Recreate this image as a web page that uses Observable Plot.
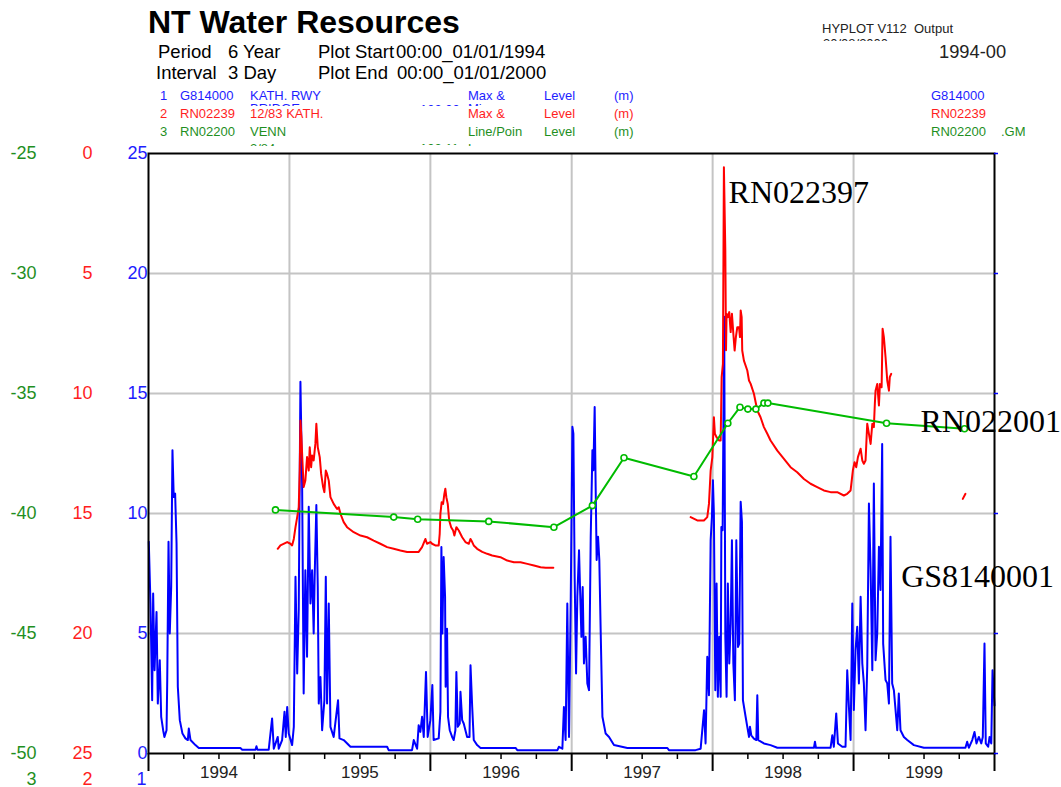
<!DOCTYPE html>
<html>
<head>
<meta charset="utf-8">
<script src="https://cdn.jsdelivr.net/npm/d3@7"></script>
<script src="https://cdn.jsdelivr.net/npm/@observablehq/plot@0.6"></script>
<style>
  html, body { margin: 0; padding: 0; background: #fff; }
  body { width: 1061px; height: 787px; position: relative; overflow: hidden; font-family: "Liberation Sans", Arial, sans-serif; }
  #header { position: relative; width: 1061px; height: 140px; }
  .t { position: absolute; white-space: pre; line-height: 1; z-index: 2; }
  .clip { position: absolute; overflow: hidden; z-index: 2; }
  .clip span { position: absolute; left: 0; white-space: pre; line-height: 1; }
  #chart svg { display: block; overflow: visible; }
</style>
</head>
<body>
<div id="header"></div>
<div id="chart"></div>
<script>
// ---------------- DATA ----------------
// Series 1: G814000 KATH. RWY BRIDGE — level (m), [decimal year, level]
const blueSeries = [
  [1994.002,8.82],[1994.014,6.25],[1994.026,2.22],[1994.033,6.67],[1994.043,3.47],[1994.057,5.9],
  [1994.066,2.08],[1994.080,3.89],[1994.090,1.53],[1994.104,0.97],[1994.113,0.69],[1994.128,0.97],
  [1994.133,3.05],[1994.142,8.82],[1994.151,5.0],[1994.161,6.94],[1994.170,12.64],[1994.179,10.69],
  [1994.189,10.83],[1994.199,8.75],[1994.208,2.78],[1994.222,1.39],[1994.241,0.83],[1994.262,0.63],
  [1994.279,0.56],[1994.286,1.04],[1994.298,0.56],[1994.333,0.35],[1994.357,0.23],[1994.652,0.23],
  [1994.665,0.16],[1994.759,0.16],[1994.766,0.3],[1994.773,0.16],[1994.853,0.16],[1994.877,1.46],
  [1994.889,0.2],[1994.917,0.69],[1994.924,0.2],[1994.948,0.56],[1994.965,1.74],[1994.974,0.69],
  [1994.984,1.94],[1994.995,0.83],[1995.019,0.35],[1995.031,1.11],[1995.043,7.36],[1995.055,3.33],
  [1995.066,6.0],[1995.078,15.49],[1995.090,11.25],[1995.101,2.5],[1995.113,7.64],[1995.125,4.03],
  [1995.137,10.28],[1995.149,6.25],[1995.161,7.64],[1995.172,5.0],[1995.179,7.36],[1995.191,10.35],
  [1995.201,6.94],[1995.208,2.08],[1995.220,3.19],[1995.232,0.97],[1995.248,2.22],[1995.258,7.36],
  [1995.267,2.08],[1995.279,6.25],[1995.291,1.11],[1995.314,0.69],[1995.345,2.22],[1995.355,0.63],
  [1995.385,0.56],[1995.433,0.28],[1995.693,0.28],[1995.704,0.14],[1995.870,0.14],[1995.882,0.56],
  [1995.906,0.2],[1995.917,1.18],[1995.929,0.9],[1995.941,1.53],[1995.953,0.69],[1995.969,3.4],
  [1995.981,0.69],[1996.000,1.39],[1996.014,2.85],[1996.023,0.56],[1996.059,0.63],[1996.071,1.74],
  [1996.078,8.6],[1996.085,5.0],[1996.094,8.19],[1996.104,6.53],[1996.108,2.78],[1996.118,5.2],
  [1996.125,1.53],[1996.137,0.97],[1996.154,0.69],[1996.165,0.56],[1996.177,0.97],[1996.184,3.4],
  [1996.194,1.11],[1996.208,1.25],[1996.213,2.57],[1996.225,1.39],[1996.236,1.25],[1996.260,0.69],
  [1996.277,0.69],[1996.284,3.68],[1996.296,1.94],[1996.307,0.56],[1996.331,0.35],[1996.355,0.23],
  [1996.603,0.23],[1996.615,0.14],[1996.899,0.14],[1996.910,0.28],[1996.934,0.2],[1996.945,1.94],
  [1996.957,0.56],[1996.969,6.25],[1996.981,0.69],[1996.993,6.25],[1997.005,13.61],[1997.012,13.33],
  [1997.021,7.36],[1997.031,3.33],[1997.040,6.53],[1997.052,8.47],[1997.059,6.94],[1997.069,4.86],
  [1997.078,6.94],[1997.087,3.75],[1997.099,4.86],[1997.111,2.92],[1997.123,2.64],[1997.135,9.03],
  [1997.147,12.64],[1997.154,11.8],[1997.163,14.44],[1997.170,11.11],[1997.177,8.06],[1997.187,9.03],
  [1997.196,8.06],[1997.206,5.0],[1997.218,1.53],[1997.241,0.83],[1997.265,0.69],[1997.300,0.35],
  [1997.395,0.23],[1997.679,0.23],[1997.690,0.14],[1997.879,0.14],[1997.915,0.2],[1997.939,1.8],
  [1997.950,0.42],[1997.962,4.03],[1997.974,2.43],[1997.986,8.89],[1997.995,9.86],[1998.002,11.39],
  [1998.009,9.99],[1998.019,2.64],[1998.028,7.08],[1998.037,2.36],[1998.047,4.86],[1998.057,2.36],
  [1998.062,9.44],[1998.071,9.3],[1998.082,18.2],[1998.090,4.86],[1998.099,2.36],[1998.108,7.08],
  [1998.118,3.75],[1998.128,5.42],[1998.137,8.89],[1998.147,3.75],[1998.158,2.22],[1998.168,8.89],
  [1998.180,4.44],[1998.189,4.58],[1998.199,10.49],[1998.208,9.65],[1998.215,2.22],[1998.234,1.53],
  [1998.246,1.11],[1998.258,0.69],[1998.265,1.11],[1998.274,0.76],[1998.293,0.62],[1998.310,0.56],
  [1998.317,2.43],[1998.324,0.56],[1998.364,0.42],[1998.411,0.35],[1998.459,0.24],[1998.719,0.24],
  [1998.726,0.49],[1998.733,0.24],[1998.837,0.24],[1998.849,0.76],[1998.860,0.28],[1998.877,1.67],
  [1998.889,0.42],[1998.920,0.28],[1998.943,0.28],[1998.955,3.47],[1998.967,1.94],[1998.979,0.56],
  [1998.991,6.25],[1999.002,1.81],[1999.014,4.31],[1999.026,5.28],[1999.038,2.92],[1999.050,6.53],
  [1999.062,3.75],[1999.073,2.92],[1999.085,0.97],[1999.097,3.61],[1999.109,10.42],[1999.121,7.64],
  [1999.133,3.47],[1999.144,11.25],[1999.156,3.89],[1999.168,5.0],[1999.180,8.61],[1999.191,6.81],
  [1999.203,12.9],[1999.210,4.58],[1999.227,3.06],[1999.239,2.92],[1999.251,2.08],[1999.262,9.03],
  [1999.274,2.92],[1999.286,2.64],[1999.310,0.97],[1999.321,2.5],[1999.333,0.97],[1999.357,0.69],
  [1999.381,0.56],[1999.428,0.35],[1999.499,0.24],[1999.794,0.24],[1999.806,0.49],[1999.818,0.24],
  [1999.842,0.56],[1999.858,0.9],[1999.872,0.42],[1999.889,0.69],[1999.906,0.42],[1999.917,0.69],
  [1999.929,4.58],[1999.938,0.42],[1999.955,0.28],[1999.965,0.69],[1999.977,0.42],[1999.986,3.47],
  [2000.000,2.0]
];

// Series 2: RN02239 12/83 KATH. — depth to water level (m), [decimal year, depth]
const redSeg1 = [
  [1994.917,16.47],[1994.936,16.33],[1994.984,16.19],[1995.007,16.26],[1995.019,16.33],[1995.031,16.06],
  [1995.043,15.57],[1995.055,15.15],[1995.066,14.74],[1995.073,13.21],[1995.078,11.13],[1995.085,11.82],
  [1995.092,12.79],[1995.101,13.9],[1995.113,13.63],[1995.125,12.65],[1995.137,13.21],[1995.144,12.24],
  [1995.154,13.07],[1995.161,12.58],[1995.172,12.79],[1995.184,12.1],[1995.191,11.26],[1995.201,12.24],
  [1995.215,12.65],[1995.225,13.35],[1995.239,13.9],[1995.248,14.11],[1995.258,13.21],[1995.267,13.35],
  [1995.279,13.63],[1995.291,14.32],[1995.314,14.6],[1995.338,14.81],[1995.350,14.74],[1995.362,15.01],
  [1995.385,15.36],[1995.409,15.57],[1995.456,15.78],[1995.504,15.92],[1995.551,15.99],[1995.598,16.13],
  [1995.645,16.26],[1995.693,16.4],[1995.740,16.47],[1995.787,16.54],[1995.835,16.6],[1995.917,16.6],
  [1995.941,16.4],[1995.965,16.06],[1995.976,16.26],[1996.000,16.19],[1996.012,16.26],[1996.035,16.33],
  [1996.059,16.33],[1996.066,15.85],[1996.071,15.01],[1996.080,14.53],[1996.090,14.6],[1996.099,14.18],
  [1996.106,13.97],[1996.113,14.32],[1996.123,14.6],[1996.133,15.29],[1996.147,15.57],[1996.161,15.71],
  [1996.170,15.92],[1996.184,15.57],[1996.201,15.71],[1996.225,15.99],[1996.248,16.19],[1996.272,16.26],
  [1996.284,16.06],[1996.296,16.19],[1996.307,16.33],[1996.331,16.47],[1996.367,16.6],[1996.402,16.68],
  [1996.437,16.75],[1996.496,16.82],[1996.544,16.96],[1996.591,17.03],[1996.638,17.03],[1996.686,17.1],
  [1996.733,17.17],[1996.780,17.24],[1996.816,17.26],[1996.870,17.26]
];
const redSeg2 = [
  [1997.844,15.15],[1997.891,15.29],[1997.938,15.29],[1997.962,15.15],[1997.974,14.6],[1997.986,13.21],
  [1997.998,12.65],[1998.009,10.99],[1998.016,11.68],[1998.028,11.82],[1998.045,11.96],[1998.057,11.96],
  [1998.064,9.32],[1998.073,8.76],[1998.080,0.57],[1998.090,4.04],[1998.095,8.2],[1998.099,6.68],
  [1998.108,6.82],[1998.118,6.61],[1998.128,7.44],[1998.137,6.68],[1998.147,7.51],[1998.156,8.21],
  [1998.165,7.65],[1998.175,7.24],[1998.187,7.24],[1998.194,7.65],[1998.199,6.54],[1998.206,6.82],
  [1998.210,8.21],[1998.222,8.63],[1998.246,9.04],[1998.258,9.46],[1998.270,9.6],[1998.293,10.01],
  [1998.317,10.71],[1998.340,10.99],[1998.364,11.4],[1998.388,11.68],[1998.411,11.96],[1998.459,12.38],
  [1998.506,12.72],[1998.553,13.07],[1998.600,13.28],[1998.648,13.56],[1998.695,13.76],[1998.742,13.9],
  [1998.789,14.04],[1998.837,14.11],[1998.884,14.11],[1998.931,14.25],[1998.955,14.18],[1998.979,14.04],
  [1998.995,13.21],[1999.007,12.86],[1999.019,13.07],[1999.031,12.65],[1999.050,12.3],[1999.062,12.79],
  [1999.073,12.93],[1999.085,12.79],[1999.097,11.26],[1999.109,11.68],[1999.121,12.1],[1999.133,11.26],
  [1999.144,11.4],[1999.151,10.43],[1999.156,9.88],[1999.168,9.6],[1999.180,10.5],[1999.187,9.6],
  [1999.199,9.74],[1999.206,7.3],[1999.215,7.65],[1999.227,8.49],[1999.239,9.46],[1999.251,9.88],
  [1999.257,9.32],[1999.267,9.18]
];
const redSeg3 = [[1999.775,14.39],[1999.794,14.18]];

// Series 3: RN02200 VENN — level (m), [decimal year, level]
const greenSeries = [
  [1994.901,-39.85],[1995.740,-40.15],[1995.910,-40.24],[1996.413,-40.33],[1996.874,-40.57],
  [1997.147,-39.67],[1997.371,-37.68],[1997.867,-38.46],[1998.108,-36.24],[1998.194,-35.57],
  [1998.250,-35.65],[1998.307,-35.65],[1998.364,-35.4],[1998.392,-35.4],[1999.234,-36.24],[1999.787,-36.47]
];

// Axis ticks
const blueTicks = [0, 5, 10, 15, 20, 25];
const redTicks = [0, 5, 10, 15, 20, 25];          // depth, 0 at top
const greenTicks = [-25, -30, -35, -40, -45, -50];
const gridLevels = [5, 10, 15, 20];
const yearBounds = [1994, 1995, 1996, 1997, 1998, 1999, 2000];
const gridYears = [1995, 1996, 1997, 1998, 1999];
const quarterTicks = [1994.25,1994.5,1994.75,1995.25,1995.5,1995.75,1996.25,1996.5,1996.75,
  1997.25,1997.5,1997.75,1998.25,1998.5,1998.75,1999.25,1999.5,1999.75];
const yearLabels = [1994, 1995, 1996, 1997, 1998, 1999];

// Annotations on the plot
const annotations = [
  {label: "RN022397", year: 1998.113, level: 23.35},
  {label: "RN022001", year: 1999.475, level: 13.83},
  {label: "GS8140001", year: 1999.338, level: 7.38}
];

// ---------------- HEADER ----------------
function addText(txt, left, top, size, color, weight) {
  const s = document.createElement("span");
  s.className = "t";
  s.textContent = txt;
  s.style.left = left + "px";
  s.style.top = top + "px";
  s.style.fontSize = size + "px";
  s.style.color = color || "#000";
  if (weight) s.style.fontWeight = weight;
  document.body.appendChild(s);
}
function addClipped(txt, left, top, h, size, color, offset) {
  const d = document.createElement("div");
  d.className = "clip";
  d.style.left = left + "px"; d.style.top = top + "px";
  d.style.height = h + "px"; d.style.width = "120px";
  const s = document.createElement("span");
  s.textContent = txt; s.style.fontSize = size + "px"; s.style.color = color;
  s.style.top = offset + "px";
  d.appendChild(s);
  document.body.appendChild(d);
}
const BL = "#1e1eff", RD = "#ff1e1e", GR = "#1f8f1f";
addText("NT Water Resources", 148, 6, 32, "#000", "bold");
addText("Period", 158, 43, 18.5);
addText("6 Year", 228, 43, 18.5);
addText("Plot Start", 318, 43, 18.5);
addText("00:00_01/01/1994", 396, 43, 18.5);
addText("Interval", 156, 64, 18.5);
addText("3 Day", 228, 64, 18.5);
addText("Plot End", 318, 64, 18.5);
addText("00:00_01/01/2000", 397, 64, 18.5);

const legendRows = [
  {n: "1", id: "G814000", name: "KATH. RWY", kind: "Max &", color: BL, top: 89},
  {n: "2", id: "RN02239", name: "12/83 KATH.", kind: "Max &", color: RD, top: 107},
  {n: "3", id: "RN02200", name: "VENN", kind: "Line/Poin", color: GR, top: 125}
];
// partially hidden second lines of the header table
addClipped("BRIDGE", 250, 103, 3, 13, BL, -1);
addClipped("102.00", 420, 104, 2, 13, BL, -1);
addClipped("Mi", 468, 103, 3, 13, BL, -1);
addClipped("2/84", 250, 143, 3, 13, GR, -1);
addClipped("102.11", 420, 143, 2, 13, GR, -1);
addClipped("L", 468, 143, 3, 13, GR, -1);
addClipped("30/08/2000", 823, 38, 3, 13, "#222", -1);
for (const r of legendRows) {
  addText(r.n, 160, r.top, 13, r.color);
  addText(r.id, 180, r.top, 13, r.color);
  addText(r.name, 250, r.top, 13, r.color);
  addText(r.kind, 468, r.top, 13, r.color);
  addText("Level", 544, r.top, 13, r.color);
  addText("(m)", 614, r.top, 13, r.color);
  addText(r.id, 931, r.top, 13, r.color);
}
addText(".GM", 1001, 125, 13, GR);
addText("HYPLOT V112  Output", 822, 22, 13, "#222");
addText("1994-00", 939, 43, 18.3, "#222");

// ---------------- CHART ----------------
function toDate(y) {
  const yr = Math.floor(y);
  const a = Date.UTC(yr, 0, 1), b = Date.UTC(yr + 1, 0, 1);
  return new Date(a + (y - yr) * (b - a));
}
const blueRows = blueSeries.map(([t, v]) => ({date: toDate(t), level: v}));
const redRows = [
  ...redSeg1.map(([t, d]) => ({date: toDate(t), depth: d, seg: 1})),
  ...redSeg2.map(([t, d]) => ({date: toDate(t), depth: d, seg: 2})),
  ...redSeg3.map(([t, d]) => ({date: toDate(t), depth: d, seg: 3}))
];
const greenRows = greenSeries.map(([t, v]) => ({date: toDate(t), level: v}));

const LINE_GREEN = "#00bb00";

const chart = Plot.plot({
  width: 1061,
  height: 647,
  marginLeft: 148,
  marginRight: 67,
  marginTop: 13,
  marginBottom: 34,
  style: {fontFamily: "Liberation Sans, Arial, sans-serif", background: "transparent", overflow: "visible"},
  x: {type: "time", domain: [toDate(1994), toDate(2000)], axis: null},
  y: {domain: [0, 25], axis: null},
  marks: [
    // grid
    Plot.ruleY(gridLevels, {y: d => d, stroke: "#c4c4c4", strokeWidth: 2}),
    Plot.ruleX(gridYears, {x: d => toDate(d), stroke: "#c4c4c4", strokeWidth: 2}),
    // data
    Plot.line(blueRows, {x: "date", y: "level", stroke: "#0000ff", strokeWidth: 2}),
    Plot.line(redRows, {x: "date", y: d => 25 - d.depth, z: "seg", stroke: "#ff0000", strokeWidth: 2}),
    Plot.line(greenRows, {x: "date", y: d => d.level + 50, stroke: LINE_GREEN, strokeWidth: 2}),
    Plot.dot(greenRows, {x: "date", y: d => d.level + 50, r: 3, fill: "white", stroke: LINE_GREEN, strokeWidth: 1.6}),
    // frame
    Plot.frame({stroke: "black", strokeWidth: 2}),
    // x ticks
    Plot.ruleX(yearBounds, {x: d => toDate(d), y1: 0, y2: 0, insetBottom: -18, stroke: "black", strokeWidth: 2}),
    Plot.ruleX(quarterTicks, {x: d => toDate(d), y1: 0, y2: 0, insetBottom: -6, stroke: "black", strokeWidth: 1.5}),
    Plot.text(yearLabels, {x: d => toDate(d + 0.5), frameAnchor: "bottom", lineAnchor: "middle", dy: 19, text: d => String(d), fontSize: 17, fill: "#222"}),
    // right-side blue ticks
    Plot.ruleY(blueTicks, {y: d => d, x1: toDate(2000), x2: toDate(2000), insetRight: -4, stroke: "#0000ff", strokeWidth: 1.5}),
    // y axis labels
    Plot.text(blueTicks, {y: d => d, frameAnchor: "left", dx: -1, textAnchor: "end", text: d => String(d), fontSize: 18, fill: BL}),
    Plot.text(redTicks, {y: d => 25 - d, frameAnchor: "left", dx: -56, textAnchor: "end", text: d => String(d), fontSize: 18, fill: RD}),
    Plot.text(greenTicks, {y: d => d + 50, frameAnchor: "left", dx: -112, textAnchor: "end", text: d => String(d), fontSize: 18, fill: GR}),
    // series index under the axes
    Plot.text(["3"], {frameAnchor: "bottom-left", lineAnchor: "middle", dx: -112, dy: 26, textAnchor: "end", text: d => d, fontSize: 18, fill: GR}),
    Plot.text(["2"], {frameAnchor: "bottom-left", lineAnchor: "middle", dx: -56, dy: 26, textAnchor: "end", text: d => d, fontSize: 18, fill: RD}),
    Plot.text(["1"], {frameAnchor: "bottom-left", lineAnchor: "middle", dx: -2, dy: 26, textAnchor: "end", text: d => d, fontSize: 18, fill: BL}),
    // annotations
    Plot.text(annotations, {x: d => toDate(d.year), y: "level", text: "label", textAnchor: "start",
      fontFamily: "Liberation Serif, Times New Roman, serif", fontSize: 32, fill: "#000"})
  ]
});
document.getElementById("chart").appendChild(chart);
</script>
</body>
</html>
